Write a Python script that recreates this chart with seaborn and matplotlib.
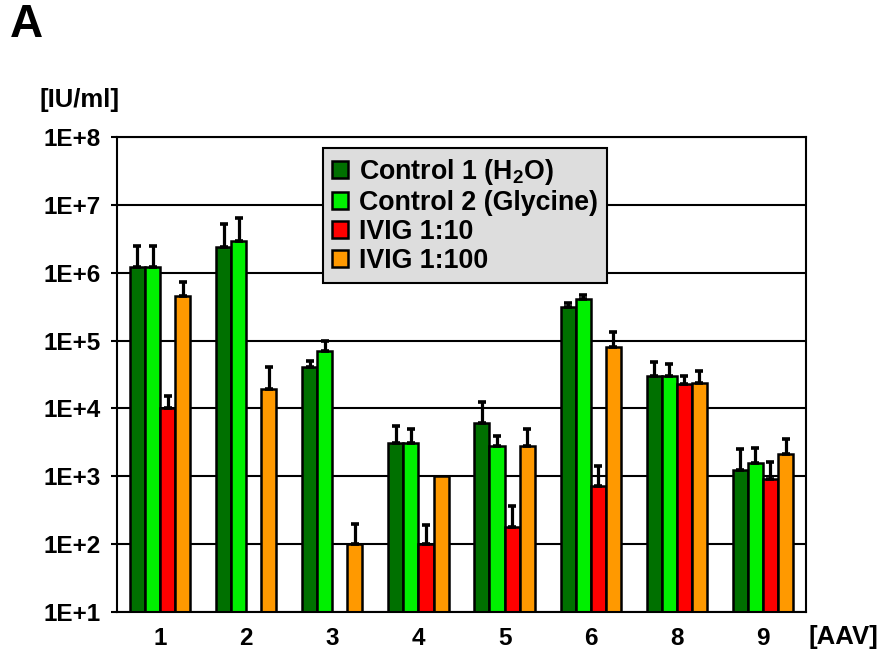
import numpy as np
import pandas as pd
import matplotlib
matplotlib.use('Agg')
import matplotlib.pyplot as plt
import seaborn as sns

# values (IU/ml), NaN = no bar
aav = ['1', '2', '3', '4', '5', '6', '8', '9']
groups = ['Control 1 (H$_2$O)', 'Control 2 (Glycine)', 'IVIG 1:10', 'IVIG 1:100']

ctrl1 = [1.2e6, 2.4e6, 4.1e4, 3.1e3, 6.2e3, 3.1e5, 3.05e4, 1.25e3]
ctrl2 = [1.2e6, 2.9e6, 7.1e4, 3.1e3, 2.75e3, 4.1e5, 3.05e4, 1.55e3]
ivig10 = [1.0e4, np.nan, np.nan, 1.0e2, 1.8e2, 7.1e2, 2.3e4, 9.1e2]
ivig100 = [4.6e5, 1.95e4, 1.0e2, 1.0e3, 2.75e3, 8.1e4, 2.35e4, 2.1e3]

# upper end of the error bars
ctrl1_err = [2.5e6, 5.2e6, 5.0e4, 5.5e3, 1.25e4, 3.6e5, 4.8e4, 2.5e3]
ctrl2_err = [2.5e6, 6.3e6, 9.8e4, 4.9e3, 3.9e3, 4.7e5, 4.5e4, 2.6e3]
ivig10_err = [1.5e4, np.nan, np.nan, 1.9e2, 3.7e2, 1.4e3, 3.0e4, 1.6e3]
ivig100_err = [7.2e5, 4.1e4, 2.0e2, 1.0e3, 5.0e3, 1.35e5, 3.6e4, 3.6e3]

colors = ['#007000', '#00f000', '#ff0000', '#ff9900']

values = [ctrl1, ctrl2, ivig10, ivig100]
tops = [ctrl1_err, ctrl2_err, ivig10_err, ivig100_err]

rows = []
for g, vals in zip(groups, values):
    for a, v in zip(aav, vals):
        rows.append({'AAV': a, 'group': g, 'titer': v})
df = pd.DataFrame(rows)

sns.set_theme(style='white')
plt.rcParams['font.family'] = ['Liberation Sans', 'DejaVu Sans']
plt.rcParams['font.weight'] = 'bold'
plt.rcParams['mathtext.default'] = 'bf'
plt.rcParams['mathtext.fontset'] = 'custom'
plt.rcParams['mathtext.bf'] = 'Liberation Sans:bold'
for key in ['text.color', 'xtick.color', 'ytick.color', 'axes.labelcolor']:
    plt.rcParams[key] = 'black'

fig = plt.figure(figsize=(8.82, 6.52), dpi=100)
ax = fig.add_axes([0.1327, 0.0613, 0.7811, 0.7286])
ax.set_yscale('log')

sns.barplot(data=df, x='AAV', y='titer', hue='group', order=aav, hue_order=groups,
            palette=colors, edgecolor='black', linewidth=1.8, width=0.7,
            saturation=1, errorbar=None, ax=ax, legend=True)

# error bars (upper only) placed on the bars drawn by seaborn
for cont, top in zip(ax.containers, tops):
    for bar in cont:
        h = bar.get_height()
        if not np.isfinite(h) or h <= 0:
            continue
        xc = bar.get_x() + bar.get_width() / 2
        i = int(round(xc))
        up = top[i] - h
        if up <= 0:
            continue
        ax.errorbar(xc, h, yerr=[[0], [up]], fmt='none', ecolor='black',
                    elinewidth=2.3, capsize=2.8, capthick=2.6, zorder=4)

ax.set_ylim(10, 1e8)
ax.set_xlim(-0.5, len(aav) - 0.5)
ax.set_yticks([10.0 ** k for k in range(1, 9)])
ax.set_yticklabels(['1E+%d' % k for k in range(1, 9)])
ax.yaxis.set_minor_locator(matplotlib.ticker.NullLocator())
ax.set_xticks(range(len(aav)))
ax.set_xticklabels(aav)
ax.set_xticks(np.arange(0.5, len(aav) - 0.5), minor=True)
ax.tick_params(axis='x', which='major', length=0, pad=11, labelsize=17.5)
ax.tick_params(axis='x', which='minor', length=4, width=1.5, color='black', direction='out')
ax.tick_params(axis='y', which='major', length=4, width=1.5, color='black',
               direction='out', left=True, labelsize=17.5, pad=8)
for lab in ax.get_xticklabels() + ax.get_yticklabels():
    lab.set_fontweight('bold')

ax.yaxis.grid(True, which='major', color='black', linewidth=1.5)
ax.set_axisbelow(True)
for sp in ax.spines.values():
    sp.set_color('black')
    sp.set_linewidth(1.5)
ax.set_xlabel('')
ax.set_ylabel('')

leg = ax.legend(loc='upper left', bbox_to_anchor=(0.299, 0.977), borderaxespad=0,
                frameon=True, fancybox=False, facecolor='#dddddd', edgecolor='black',
                framealpha=1, handlelength=0.6, handleheight=0.6,
                handletextpad=0.4, labelspacing=0.12, borderpad=0.33,
                prop={'weight': 'bold', 'size': 19.3})
leg.get_frame().set_linewidth(1.5)

fig.text(0.011, 0.962, 'A', fontsize=33, fontweight='bold', va='center', ha='left')
fig.text(0.045, 0.847, '[IU/ml]', fontsize=18.5, fontweight='bold', va='center', ha='left')
fig.text(0.917, 0.023, '[AAV]', fontsize=18.5, fontweight='bold', va='center', ha='left')

fig.savefig('out.png', dpi=100)
